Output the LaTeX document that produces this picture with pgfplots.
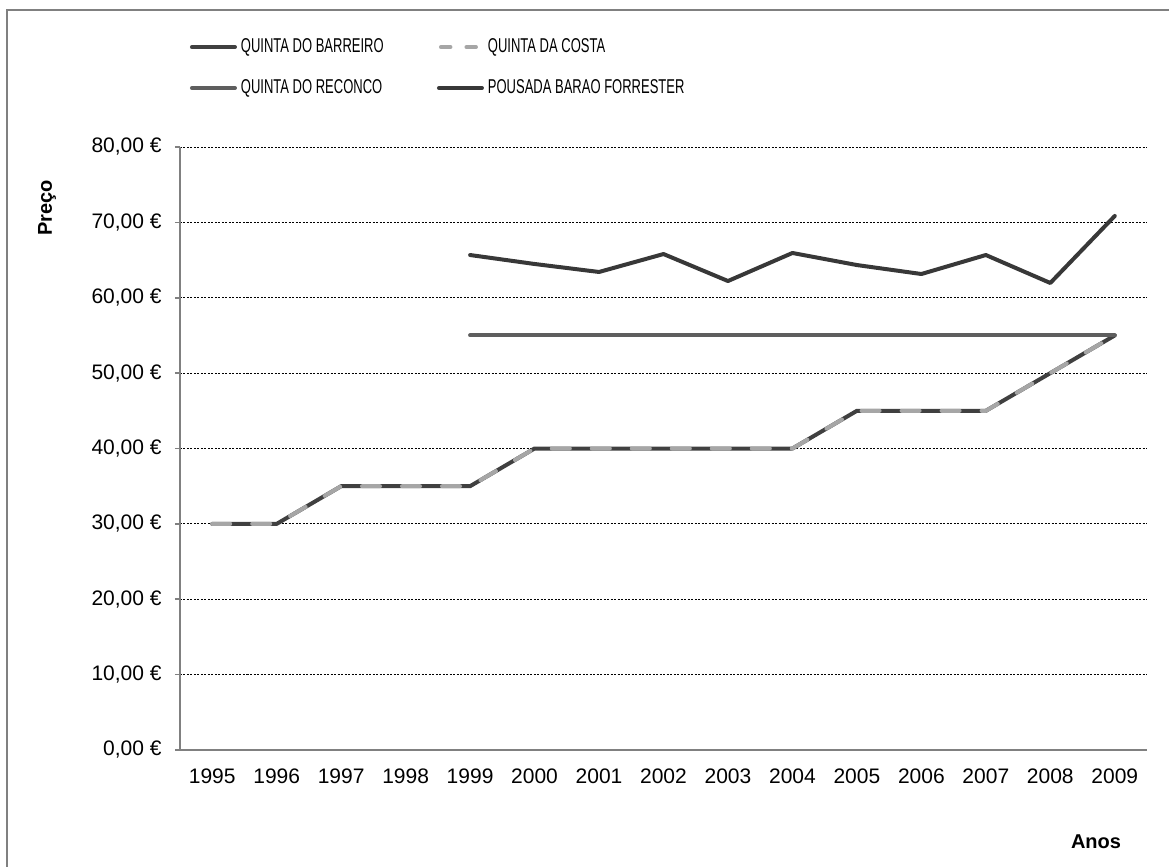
\documentclass[border=0pt]{standalone}
\usepackage{pgfplots}
\pgfplotsset{compat=1.18}
\usepackage{graphicx}
\usepackage{fontspec}
\setmainfont{Liberation Sans}
\definecolor{cBar}{HTML}{404040}
\definecolor{cCos}{HTML}{A6A6A6}
\definecolor{cRec}{HTML}{5E5E5E}
\definecolor{cPou}{HTML}{383838}
\definecolor{axgray}{HTML}{808080}
\newcommand{\lt}[1]{\hspace{2pt}\makebox[98pt][l]{\scalebox{0.65}[1]{#1}}}
\pgfplotsset{costaleg/.style={legend image code/.code={\draw[##1, dash pattern=on 4.75pt off 8pt] (1pt,0pt) -- (20.5pt,0pt);}}}
\begin{document}
\begin{tikzpicture}[x=0.5pt,y=0.5pt]
\useasboundingbox (0,0) rectangle (1169,867);
\draw[color=axgray, line width=0.75pt] (7,0) -- (7,857) -- (1169,857);
\begin{axis}[
  at={(90pt,58.5pt)}, anchor=south west,
  scale only axis, width=483.5pt, height=301.5pt,
  xmin=-0.5, xmax=14.5, ymin=0, ymax=80,
  axis x line*=bottom, axis y line*=left,
  axis line style={draw=axgray, line width=0.75pt, -},
  xtick={0,...,14},
  xticklabels={1995,1996,1997,1998,1999,2000,2001,2002,2003,2004,2005,2006,2007,2008,2009},
  xtick style={draw=none},
  ytick={0,10,...,80},
  yticklabels={{0,00 €},{10,00 €},{20,00 €},{30,00 €},{40,00 €},{50,00 €},{60,00 €},{70,00 €},{80,00 €}},
  ytick style={draw=axgray, line width=0.75pt},
  tick align=outside, major tick length=2.5pt,
  yticklabel style={font=\fontsize{10.5}{12}\selectfont, inner sep=0pt, anchor=east, xshift=-6.5pt},
  xticklabel style={font=\fontsize{10.5}{12}\selectfont, inner sep=0pt, anchor=north, yshift=-6.5pt},
  ymajorgrids,
  grid style={black, line width=0.5pt, dash pattern=on 1pt off 0.75pt},
  legend columns=2,
  legend style={at={(0.0103,1.1318)}, anchor=west, draw=none, fill=none,
    inner sep=0pt, outer sep=0pt, column sep=0pt, row sep=12pt,
    font=\fontsize{10}{12}\selectfont,
    nodes={inner sep=0pt, outer sep=0pt}, cells={anchor=west}},
  legend image code/.code={\draw[#1] (0pt,0pt) -- (21.5pt,0pt);},
  every axis plot/.append style={line width=2pt, line cap=round, line join=round},
]
\addplot[color=cBar] coordinates {(0,30)(1,30)(2,35)(3,35)(4,35)(5,40)(6,40)(7,40)(8,40)(9,40)(10,45)(11,45)(12,45)(13,50)(14,55)};
\addlegendentry{\lt{QUINTA DO BARREIRO}}
\addplot[color=cCos, dash pattern=on 9pt off 11pt, costaleg]
  coordinates {(0,30)(1,30)(2,35)(3,35)(4,35)(5,40)(6,40)(7,40)(8,40)(9,40)(10,45)(11,45)(12,45)(13,50)(14,55)};
\addlegendentry{\lt{QUINTA DA COSTA}}
\addplot[color=cRec] coordinates {(4,55)(5,55)(6,55)(7,55)(8,55)(9,55)(10,55)(11,55)(12,55)(13,55)(14,55)};
\addlegendentry{\lt{QUINTA DO RECONCO}}
\addplot[color=cPou] coordinates {(4,65.67)(5,64.48)(6,63.42)(7,65.80)(8,62.22)(9,65.94)(10,64.34)(11,63.15)(12,65.67)(13,61.96)(14,70.85)};
\addlegendentry{\lt{POUSADA BARAO FORRESTER}}
\end{axis}
\node[rotate=90, font=\fontsize{10}{12}\selectfont\bfseries] at (47,659) {Preço};
\node[font=\fontsize{10}{12}\selectfont\bfseries] at (1096,25) {Anos};
\end{tikzpicture}
\end{document}
